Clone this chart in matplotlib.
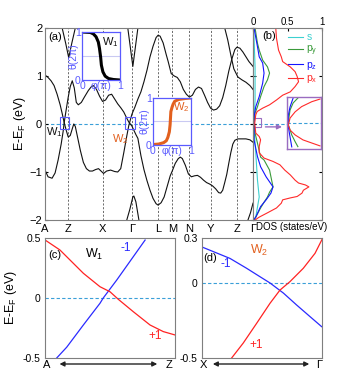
import numpy as np
import matplotlib
matplotlib.use("Agg")
import matplotlib.pyplot as plt
from matplotlib.patches import Rectangle

plt.rcParams['font.family'] = ['Liberation Sans', 'DejaVu Sans']
plt.rcParams['mathtext.default'] = 'regular'

# ---- (a) band structure, k along the path (arbitrary units), E in eV
K_TICKS = [0, 23, 57, 86, 112, 126, 143, 164, 190, 206]
K_LABELS = ['A', 'Z', 'X', 'Γ', 'L', 'M', 'N', 'Y', 'Z', 'Γ']

band_up = np.array([
    (0, 1.02), (3, 0.97), (6, 0.9), (9, 0.8), (12, 0.62), (15, 0.4), (17, 0.22),
    (19, 0.03), (21, -0.13), (23, -0.27), (25, -0.24), (27, -0.1), (28.5, 0.0),
    (30, -0.05), (32, -0.25), (35, -0.55), (38, -0.8), (41, -0.93), (44, -0.98),
    (47, -0.98), (50, -0.95), (53, -0.93), (56, -0.99), (58, -1.03), (61, -0.98),
    (65, -0.96), (69, -0.99), (72, -1.0), (75, -0.93), (78, -0.6), (81, -0.25),
    (83, -0.03), (86, 0.2), (89, 0.35), (92, 0.52), (95, 0.67), (98, 0.88),
    (101, 1.12), (104, 1.4), (107, 1.62), (110, 1.8), (112, 1.85), (114, 1.83),
    (117, 1.69), (120, 1.45), (122, 1.3), (125, 1.05), (128, 1.0), (131, 0.97),
    (134, 0.88), (137, 0.72), (140, 0.62), (143, 0.56), (146, 0.6), (149, 0.72),
    (152, 0.77), (155, 0.74), (158, 0.6), (161, 0.45), (164, 0.33), (167, 0.29),
    (170, 0.31), (173, 0.38), (176, 0.55), (179, 0.8), (182, 1.1), (185, 1.35),
    (188, 1.55), (190, 1.6), (193, 1.58), (196, 1.5), (199, 1.4), (202, 1.3),
    (206, 1.2)])

band_lo = np.array([
    (0, -0.96), (3, -1.1), (7, -1.13), (10, -1.02), (13, -0.75), (16, -0.42),
    (18, -0.15), (19, 0.03), (21, 0.3), (23, 0.56), (25, 0.78), (27, 0.9),
    (29, 0.75), (31, 0.45), (33, 0.4), (36, 0.45), (39, 0.56), (43, 0.7),
    (46, 0.78), (48, 0.8), (51, 0.72), (54, 0.58), (57, 0.47), (60, 0.5),
    (63, 0.6), (66, 0.62), (69, 0.52), (72, 0.42), (75, 0.34), (78, 0.25),
    (81, 0.12), (83, 0.04), (86, -0.04), (88, -0.13), (90, -0.22), (92, -0.3),
    (95, -0.66), (98, -0.95), (101, -1.18), (104, -1.38), (107, -1.55),
    (110, -1.66), (112, -1.69), (115, -1.64), (118, -1.52), (121, -1.3),
    (124, -1.08), (126, -0.98), (129, -0.82), (132, -0.72), (134, -0.69),
    (136, -0.72), (139, -0.86), (142, -1.04), (145, -1.1), (148, -1.08),
    (151, -1.07), (154, -1.11), (157, -1.17), (160, -1.22), (163, -1.25),
    (166, -1.29), (169, -1.35), (172, -1.43), (174, -1.44), (176, -1.38),
    (178, -1.22), (180, -1.05), (182, -0.82), (184, -0.6), (186, -0.42),
    (188, -0.34), (191, -0.31), (195, -0.31), (199, -0.31), (203, -0.33),
    (206, -0.38)])

band_vz = np.array([(17, 2.0), (20.5, 1.68), (23.5, 1.38), (26.5, 1.68), (30, 2.0)])
band_vg = np.array([(82, 2.0), (84.5, 1.6), (87, 1.2), (89.5, 1.6), (92, 2.0)])
band_lg = np.array([(81, -2.0), (84, -1.78), (87, -1.52), (88, -1.5), (90, -1.62), (93, -2.0)])
band_z2 = np.array([(178, 2.0), (181, 1.75), (184, 1.44), (187, 1.15), (191, 0.98),
                    (195, 0.92), (199, 0.87), (203, 0.8), (206, 0.72)])
band_g2 = np.array([(201, -2.0), (203.5, -1.85), (206, -1.65)])

# Wilson loops (phi in pi, theta in 2pi)
w1_phi = [0, 0.22, 0.30, 0.37, 0.43, 0.46, 0.49, 0.51, 0.55, 0.61, 0.70, 0.83, 1.0]
w1_theta = [1.0, 0.99, 0.96, 0.90, 0.79, 0.66, 0.48, 0.31, 0.17, 0.08, 0.03, 0.01, 0.0]
w2_phi = [0, 0.15, 0.28, 0.35, 0.39, 0.43, 0.45, 0.46, 0.47, 0.50, 0.53, 0.57, 0.68, 0.85, 1.0]
w2_theta = [0.01, 0.02, 0.05, 0.09, 0.16, 0.28, 0.43, 0.57, 0.71, 0.80, 0.87, 0.93, 0.97, 0.99, 1.0]

# ---- (b) projected DOS: (E, DOS)
dos_px = np.array([
    (2.0, 0.33), (1.79, 0.34), (1.54, 0.37), (1.40, 0.41), (1.30, 0.43), (1.19, 0.54),
    (1.09, 0.61), (0.99, 0.64), (0.88, 0.66), (0.78, 0.61), (0.67, 0.54), (0.60, 0.43),
    (0.50, 0.34), (0.40, 0.24), (0.33, 0.14), (0.26, 0.06), (0.19, 0.04), (0.02, 0.025),
    (-0.19, 0.04), (-0.26, 0.09), (-0.33, 0.11), (-0.47, 0.09), (-0.6, 0.09),
    (-0.71, 0.16), (-0.78, 0.29), (-0.85, 0.39), (-0.96, 0.46), (-1.06, 0.54),
    (-1.17, 0.61), (-1.23, 0.66), (-1.27, 0.76), (-1.31, 0.81), (-1.38, 0.73),
    (-1.44, 0.71), (-1.51, 0.64), (-1.54, 0.54), (-1.58, 0.43), (-1.65, 0.41),
    (-1.75, 0.34), (-1.85, 0.21), (-1.94, 0.09), (-2.0, 0.03)])
dos_py = np.array([
    (2.0, 0.03), (1.68, 0.065), (1.54, 0.09), (1.33, 0.14), (1.19, 0.21), (1.06, 0.24),
    (0.92, 0.21), (0.78, 0.16), (0.57, 0.11), (0.36, 0.065), (0.23, 0.03), (0.02, 0.015),
    (-0.19, 0.03), (-0.4, 0.065), (-0.69, 0.11), (-0.75, 0.16), (-0.96, 0.24),
    (-1.1, 0.26), (-1.31, 0.29), (-1.42, 0.24), (-1.52, 0.21), (-1.63, 0.16),
    (-1.75, 0.11), (-1.94, 0.04), (-2.0, 0.01)])
dos_pz = np.array([
    (2.0, 0.015), (1.61, 0.065), (1.40, 0.09), (1.27, 0.14), (1.06, 0.16), (0.85, 0.14),
    (0.57, 0.09), (0.36, 0.04), (0.15, 0.015), (-0.33, 0.015), (-0.68, 0.065),
    (-0.89, 0.11), (-1.1, 0.19), (-1.31, 0.29), (-1.44, 0.26), (-1.58, 0.19),
    (-1.72, 0.11), (-1.94, 0.04), (-2.0, 0.01)])
dos_s = np.array([
    (2.0, 0.01), (1.19, 0.03), (0.5, 0.03), (0.0, 0.01), (-0.6, 0.04), (-1.17, 0.065),
    (-1.52, 0.09), (-1.94, 0.04), (-2.0, 0.01)])

# zoom near E_F (inset of b)
zin_px = np.array([(0.092, 0.097), (0.082, 0.073), (0.063, 0.043), (0.043, 0.024),
                   (0.019, 0.009), (-0.008, 0.004), (-0.027, 0.009), (-0.046, 0.024),
                   (-0.065, 0.047), (-0.077, 0.073), (-0.088, 0.097)])
zin_py = np.array([(0.096, 0.032), (0.077, 0.018), (0.05, 0.009), (0.023, 0.006),
                   (-0.008, 0.004), (-0.015, 0.006), (-0.046, 0.014), (-0.072, 0.024),
                   (-0.091, 0.032)])
zin_pz = np.array([(0.096, 0.018), (0.062, 0.009), (0.031, 0.004), (-0.008, 0.003),
                   (-0.054, 0.009), (-0.092, 0.014)])
zin_s = np.array([(0.1, 0.001), (-0.1, 0.001)])

# ---- (c) near W1 and (d) near W2
c_blue = np.array([(0.09, -0.5), (0.167, -0.41), (0.295, -0.225), (0.423, -0.044),
                   (0.448, 0.0), (0.552, 0.15), (0.679, 0.344), (0.77, 0.483)])
c_red = np.array([(0.005, 0.48), (0.115, 0.4), (0.295, 0.206), (0.423, 0.094),
                  (0.5, 0.052), (0.564, -0.011), (0.679, -0.114), (0.808, -0.225),
                  (0.91, -0.28), (1.0, -0.308)])
d_blue = np.array([(0.0, 0.24), (0.095, 0.209), (0.233, 0.164), (0.372, 0.098),
                   (0.483, 0.042), (0.567, 0.0), (0.678, -0.067), (0.789, -0.147),
                   (0.9, -0.224), (0.997, -0.291)])
d_red = np.array([(0.247, -0.5), (0.344, -0.40), (0.456, -0.268), (0.567, -0.135),
                  (0.65, -0.047), (0.733, 0.009), (0.844, 0.098), (0.942, 0.198),
                  (1.0, 0.29)])

W, H = 351, 379
FERMI = '#3a9fd8'
BOXC = '#5a5aff'
ORANGE = '#e2601e'
PURPLE = '#9a6cc0'
GRAYSP = '#7f7f7f'
C_S, C_PY, C_PZ, C_PX = '#3cd0d0', '#3a9a3a', '#1414ff', '#ff2a2a'

fig = plt.figure(figsize=(W / 100, H / 100), dpi=100)


def px_axes(l, t, r, b):
    return fig.add_axes([l / W, 1 - b / H, (r - l) / W, (b - t) / H])


# ---------------- (a)
ax = px_axes(45, 28, 253, 220)
for k in K_TICKS[1:-1]:
    ax.axvline(k, color='#555555', lw=0.6, ls=(0, (2.5, 2)), zorder=1)
ax.axhline(0, color=FERMI, lw=0.8, ls=(0, (3, 2)), zorder=1)
for b in (band_up, band_lo, band_vz, band_vg, band_lg, band_z2, band_g2):
    ax.plot(b[:, 0], b[:, 1], color='#111111', lw=0.8, zorder=2)
ax.add_patch(Rectangle((14.5, -0.11), 9.5, 0.26, fill=False, ec=BOXC, lw=0.8, zorder=3))
ax.add_patch(Rectangle((79, -0.11), 10, 0.26, fill=False, ec=BOXC, lw=0.8, zorder=3))
ax.set_xlim(0, 206)
ax.set_ylim(-2, 2)
ax.set_xticks(K_TICKS)
ax.set_xticklabels(K_LABELS)
ax.set_yticks([-2, -1, 0, 1, 2])
ax.tick_params(direction='in', length=2.5, labelsize=8, pad=2, right=True)
ax.tick_params(axis='x', length=0, pad=3)
ax.set_ylabel('E-E$_F$ (eV)', fontsize=9, labelpad=1)
ax.text(0.015, 0.955, '(a)', transform=ax.transAxes, fontsize=8, va='center')
ax.text(1, -0.16, 'W$_1$', fontsize=8, va='center', color='#111111')
ax.text(75, -0.32, 'W$_2$', fontsize=8, va='center', ha='center', color=ORANGE)
for s in ax.spines.values():
    s.set_color(GRAYSP)


def wilson_inset(l, t, r, b, phi, theta, col, lab):
    ai = px_axes(l, t, r, b)
    ai.axhline(0.5, color='#c9c9f2', lw=0.8, zorder=0)
    ai.plot(phi, theta, color=col, lw=2.2)
    ai.set_xlim(0, 1)
    ai.set_ylim(0, 1)
    ai.set_xticks([0, 0.5, 1])
    ai.set_xticklabels(['0', 'φ(π)', '1'])
    ai.set_yticks([0, 1])
    ai.set_yticklabels(['0', '1'])
    ai.tick_params(length=0, labelsize=7.5, labelcolor=BOXC, pad=1)
    ai.text(-0.1, 0.5, 'θ(2π)', transform=ai.transAxes, rotation=90, fontsize=7.5,
            ha='right', va='center', color=BOXC)
    for s in ai.spines.values():
        s.set_color(BOXC)
        s.set_linewidth(0.9)
    ai.text(0.74, 0.8, lab, transform=ai.transAxes, fontsize=8,
            ha='center', va='center', color=col if col != 'k' else '#111111')
    return ai


wilson_inset(82, 32, 120, 80, w1_phi, w1_theta, 'k', 'W$_1$')
wilson_inset(153, 98, 191, 145, w2_phi, w2_theta, ORANGE, 'W$_2$')

# ---------------- (b)
bx = px_axes(253, 28, 322, 220)
bx.axhline(0, color=FERMI, lw=0.8, ls=(0, (3, 2)), zorder=1)
bx.plot(dos_s[:, 1], dos_s[:, 0], color=C_S, lw=0.8, label='s')
bx.plot(dos_py[:, 1], dos_py[:, 0], color=C_PY, lw=0.8, label='p$_y$')
bx.plot(dos_pz[:, 1], dos_pz[:, 0], color=C_PZ, lw=0.8, label='p$_z$')
bx.plot(dos_px[:, 1], dos_px[:, 0], color=C_PX, lw=0.8, label='p$_x$')
bx.add_patch(Rectangle((0.005, -0.06), 0.115, 0.185, fill=False, ec=PURPLE, lw=0.8))
bx.annotate('', xy=(0.46, -0.06), xytext=(0.14, -0.06),
            arrowprops=dict(arrowstyle='-|>', color=PURPLE, lw=1, mutation_scale=7))
bx.set_xlim(0, 1)
bx.set_ylim(-2, 2)
bx.set_xticks([0, 0.5, 1])
bx.set_xticklabels(['0', '0.5', '1'])
bx.set_yticks([-2, -1, 0, 1, 2])
bx.set_yticklabels([])
bx.tick_params(axis='x', top=True, bottom=False, labeltop=True, labelbottom=False,
               direction='in', length=2.5, labelsize=7, pad=1)
bx.tick_params(axis='y', direction='in', length=2.5, right=True)
bx.xaxis.set_label_position('bottom')
bx.set_xlabel('DOS (states/eV)', fontsize=7)
bx.xaxis.set_label_coords(0.56, -0.012, transform=bx.transAxes)
bx.xaxis.label.set_va('top')
bx.text(0.13, 0.96, '(b)', transform=bx.transAxes, fontsize=8, va='center')
leg = bx.legend(loc='upper right', bbox_to_anchor=(1.03, 1.01), frameon=False,
                fontsize=7.5, handlelength=1.5, handletextpad=0.3, labelspacing=0.15,
                borderaxespad=0.2, labelcolor='linecolor')
for s in bx.spines.values():
    s.set_color(GRAYSP)

zi = px_axes(287, 97, 321, 149)
zi.axhline(0, color=FERMI, lw=0.8, ls=(0, (3, 2)))
zi.plot(zin_s[:, 1], zin_s[:, 0], color=C_S, lw=0.8)
zi.plot(zin_py[:, 1], zin_py[:, 0], color=C_PY, lw=0.8)
zi.plot(zin_pz[:, 1], zin_pz[:, 0], color=C_PZ, lw=0.8)
zi.plot(zin_px[:, 1], zin_px[:, 0], color=C_PX, lw=0.8)
zi.set_xlim(0, 0.1)
zi.set_ylim(-0.1, 0.1)
zi.set_xticks([])
zi.set_yticks([])
for s in zi.spines.values():
    s.set_color(PURPLE)
    s.set_linewidth(1)


# ---------------- (c) and (d)
def zoom_panel(l, r, blue, red, ylo, yhi, yt, ytl):
    a = px_axes(l, 238, r, 358)
    a.axhline(0, color=FERMI, lw=0.8, ls=(0, (3, 2)))
    a.plot(blue[:, 0], blue[:, 1], color='#2a2aff', lw=0.9)
    a.plot(red[:, 0], red[:, 1], color='#ff2222', lw=0.9)
    a.set_xlim(0, 1)
    a.set_ylim(ylo, yhi)
    a.set_xticks([])
    a.set_yticks(yt)
    a.set_yticklabels(ytl)
    a.tick_params(length=0, labelsize=7.5, pad=3)
    for s in a.spines.values():
        s.set_color(GRAYSP)
    return a


cx = zoom_panel(45, 175, c_blue, c_red, -0.5, 0.5, [-0.5, 0, 0.5], ['-0.5', '0', '0.5'])
cx.set_ylabel('E-E$_F$ (eV)', fontsize=9, labelpad=3)
cx.text(0.025, 0.86, '(c)', transform=cx.transAxes, fontsize=8, va='center')
cx.text(0.38, 0.86, 'W$_1$', transform=cx.transAxes, fontsize=9, ha='center', va='center')
cx.text(0.62, 0.92, '-1', transform=cx.transAxes, fontsize=8.5, ha='center', va='center',
        color='#2a2aff')
cx.text(0.85, 0.18, '+1', transform=cx.transAxes, fontsize=8.5, ha='center', va='center',
        color='#ff2222')
cx.text(0.015, -0.06, 'A', transform=cx.transAxes, fontsize=8, ha='center', va='center')
cx.text(0.95, -0.06, 'Z', transform=cx.transAxes, fontsize=8, ha='center', va='center')
cx.annotate('', xy=(0.885, -0.05), xytext=(0.09, -0.05), xycoords='axes fraction',
            arrowprops=dict(arrowstyle='<|-|>', color='#222222', lw=1, mutation_scale=7),
            annotation_clip=False)

dx = zoom_panel(202, 322, d_blue, d_red, -0.5, 0.3, [-0.5, 0, 0.3], ['-0.5', '0', '0.3'])
dx.text(0.01, 0.83, '(d)', transform=dx.transAxes, fontsize=8, va='center')
dx.text(0.2, 0.78, '-1', transform=dx.transAxes, fontsize=8.5, ha='center', va='center',
        color='#2a2aff')
dx.text(0.48, 0.9, 'W$_2$', transform=dx.transAxes, fontsize=9, ha='center', va='center',
        color=ORANGE)
dx.text(0.45, 0.11, '+1', transform=dx.transAxes, fontsize=8.5, ha='center', va='center',
        color='#ff2222')
dx.text(0.01, -0.06, 'X', transform=dx.transAxes, fontsize=8, ha='center', va='center')
dx.text(0.975, -0.06, 'Γ', transform=dx.transAxes, fontsize=8, ha='center', va='center')
dx.annotate('', xy=(0.917, -0.05), xytext=(0.067, -0.05), xycoords='axes fraction',
            arrowprops=dict(arrowstyle='<|-|>', color='#222222', lw=1, mutation_scale=7),
            annotation_clip=False)

fig.savefig('out.png', dpi=100)
